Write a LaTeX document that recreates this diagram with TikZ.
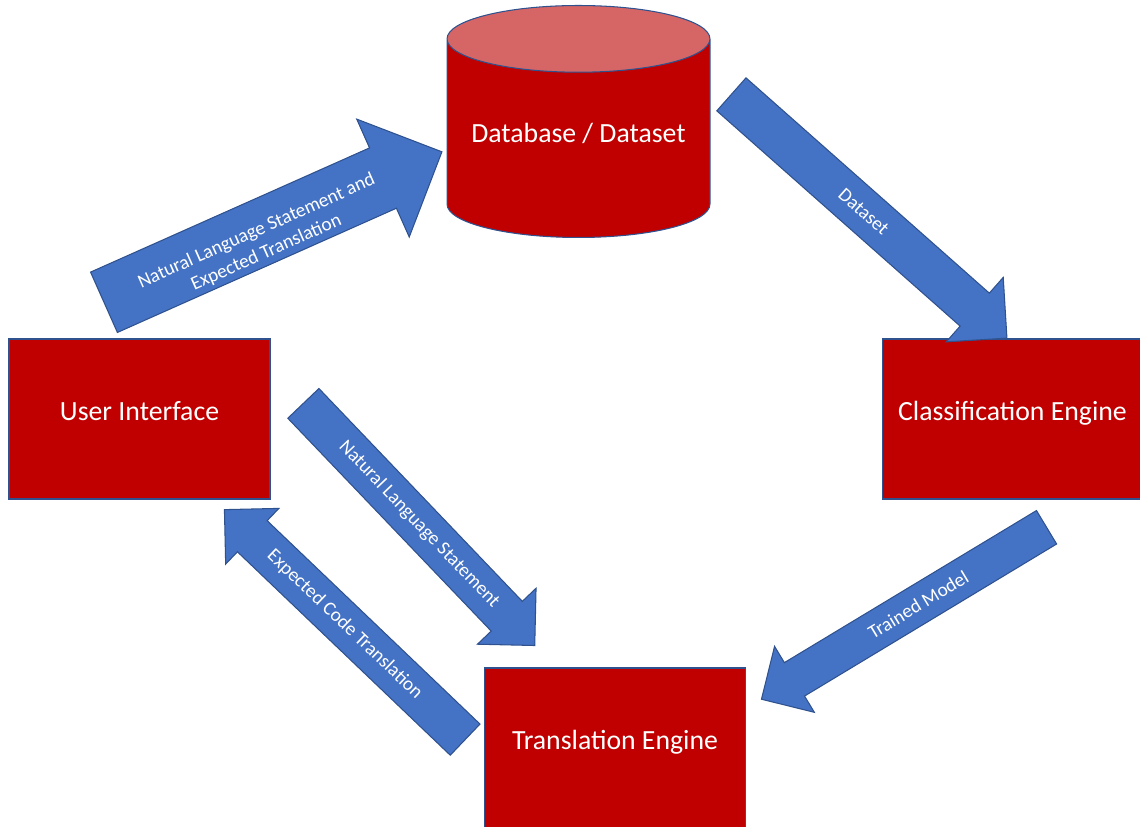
\documentclass[tikz,border=0pt]{standalone}
\usepackage{fontspec}
\setmainfont{Carlito}
\usepackage{tikz}
\usetikzlibrary{shapes.geometric, shapes.arrows, calc}
\definecolor{boxred}{RGB}{192,0,0}
\definecolor{toppink}{RGB}{214,102,102}
\definecolor{edgeblue}{RGB}{47,82,143}
\definecolor{flowblue}{RGB}{68,114,196}
\tikzstyle{block} = [rectangle, minimum width=5.22cm, minimum height=3.2cm, text centered, draw=edgeblue, fill=boxred, text=white, line width=0.6pt, text height=0.75em, text depth=0.6em, font=\fontsize{15.8}{19}\selectfont]
\tikzstyle{store} = [cylinder, shape border rotate=90, aspect=0.295, minimum width=5.26cm, minimum height=4.64cm, draw=edgeblue, cylinder uses custom fill, cylinder body fill=boxred, cylinder end fill=toppink, text=white, line width=0.6pt, text height=0.75em, text depth=0.9em, font=\fontsize{15.8}{19}\selectfont]
\tikzstyle{flow} = [single arrow, anchor=tail, draw=edgeblue, fill=flowblue, line width=0.6pt, inner xsep=0pt, minimum width=0pt, single arrow head indent=0pt]
\tikzstyle{flowtext} = [text=white, align=center, font=\fontsize{11}{13.5}\selectfont]

\begin{document}
\begin{tikzpicture}[x=0.02cm, y=0.02cm]
		\useasboundingbox (0,0) rectangle (1140,-827);
		\node (db) [store, anchor=bottom] at (578.5,-238) {Database / Dataset};
		\node (ui) [block] at (139.5,-419) {User Interface};
		\node (ce) [block] at (1012.5,-419) {Classification Engine};
		\node (te) [block] at (615,-748) {Translation Engine};
		\node (toDb) [flow, rotate=24, minimum height=7.4cm, inner ysep=0.65cm, single arrow head extend=0.63cm] at (103.5,-302.5) {};
		\node (toCe) [flow, rotate=-41.5, minimum height=7.36cm, inner ysep=0.43cm, single arrow head extend=0.42cm] at (731,-94) {};
		\node (toTeModel) [flow, rotate=211.1, minimum height=6.66cm, inner ysep=0.38cm, single arrow head extend=0.38cm] at (1047,-527) {};
		\node (toTe) [flow, rotate=-46.3, minimum height=6.7cm, inner ysep=0.42cm, single arrow head extend=0.38cm] at (303,-403) {};
		\node (toUi) [flow, rotate=136.3, minimum height=6.66cm, inner ysep=0.42cm, single arrow head extend=0.34cm] at (465.5,-740) {};
		\node (toDbText) [flowtext, rotate=24] at ($(toDb.tail)!0.46!(toDb.tip)+(2,-9)$) {Natural Language Statement and\\Expected Translation};
		\node (toCeText) [flowtext, rotate=-41.5] at ($(toCe.tail)!0.48!(toCe.tip)$) {Dataset};
		\node (toTeModelText) [flowtext, rotate=31.1] at ($(toTeModel.tail)!0.45!(toTeModel.tip)$) {Trained Model};
		\node (toTeText) [flowtext, rotate=-46.3] at ($(toTe.tail)!0.5!(toTe.tip)$) {Natural Language Statement};
		\node (toUiText) [flowtext, rotate=-43.7] at ($(toUi.tail)!0.5!(toUi.tip)$) {Expected Code Translation};
	\end{tikzpicture}
\end{document}
